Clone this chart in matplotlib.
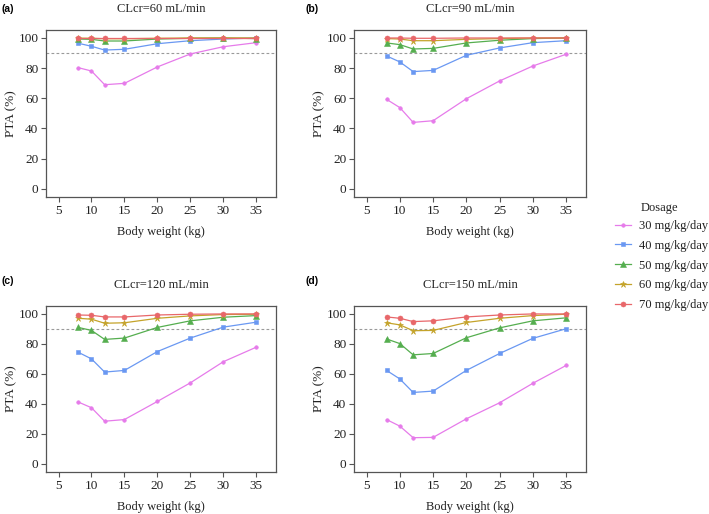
import numpy as np
import matplotlib
matplotlib.use('Agg')
import matplotlib.pyplot as plt

plt.rcParams['font.family'] = ['Liberation Serif', 'DejaVu Serif']

weight = [8, 10, 12, 15, 20, 25, 30, 35]
dosages = ['30 mg/kg/day', '40 mg/kg/day', '50 mg/kg/day', '60 mg/kg/day', '70 mg/kg/day']
panel_tags = ['(a)', '(b)', '(c)', '(d)']
panel_titles = ['CLcr=60 mL/min', 'CLcr=90 mL/min', 'CLcr=120 mL/min', 'CLcr=150 mL/min']

# PTA (%) per dosage
pta_60 = [
    [80.3, 78.1, 69.0, 69.9, 80.8, 89.4, 94.2, 96.9],
    [96.5, 94.5, 92.0, 92.5, 96.2, 98.2, 99.3, 100.0],
    [99.3, 99.1, 98.0, 98.0, 99.3, 99.8, 100.0, 99.6],
    [99.9, 99.8, 99.5, 99.5, 99.8, 100.0, 100.0, 100.0],
    [100.0, 100.0, 100.0, 100.0, 100.0, 100.0, 100.0, 100.0],
]
pta_90 = [
    [59.3, 53.8, 44.0, 45.1, 59.7, 71.5, 81.4, 89.2],
    [88.1, 84.1, 77.7, 78.5, 88.5, 93.4, 96.9, 98.2],
    [96.7, 95.6, 92.7, 93.1, 96.7, 98.5, 99.6, 100.0],
    [99.6, 99.3, 98.2, 98.2, 99.1, 99.6, 100.0, 100.0],
    [100.0, 100.0, 99.8, 99.8, 100.0, 100.0, 100.0, 100.0],
]
pta_120 = [
    [41.2, 37.4, 28.4, 29.5, 41.6, 54.0, 68.1, 77.8],
    [74.4, 70.0, 61.2, 62.3, 74.9, 83.9, 91.2, 94.5],
    [91.0, 89.0, 83.0, 83.9, 91.0, 95.4, 97.8, 98.9],
    [97.1, 96.5, 93.8, 94.1, 97.1, 98.7, 99.6, 99.8],
    [99.3, 99.1, 98.0, 98.0, 99.3, 99.8, 100.0, 100.0],
]
pta_150 = [
    [29.5, 25.1, 17.4, 17.6, 30.0, 40.7, 53.7, 65.6],
    [62.3, 56.6, 47.6, 48.5, 62.3, 73.6, 83.7, 90.1],
    [83.3, 80.2, 72.7, 73.6, 84.1, 90.7, 95.4, 97.4],
    [94.1, 92.7, 88.8, 89.0, 94.3, 97.1, 98.9, 99.8],
    [98.0, 97.1, 94.9, 95.4, 98.0, 99.3, 100.0, 100.0],
]
panels = [pta_60, pta_90, pta_120, pta_150]
target = 90

colors = ['#E67BEA', '#6A98F2', '#55AE4F', '#C4A32A', '#E8676A']
markers = ['o', 's', '^', '*', 'o']
msizes = [2.6, 3.0, 4.0, 4.5, 3.6]

W, H = 709, 514
fig = plt.figure(figsize=(W / 100, H / 100), dpi=100)

# axes boxes in pixels: left, top, right, bottom
boxes = [(46, 30, 276, 197), (354, 30, 586, 197),
         (46, 306, 276, 472), (354, 306, 586, 472)]

axes = []
for k, (l, t, r, b) in enumerate(boxes):
    ax = fig.add_axes([l / W, 1 - b / H, (r - l) / W, (b - t) / H])
    data = panels[k]
    for i in range(len(dosages)):
        ax.plot(weight, data[i], color=colors[i], marker=markers[i], ms=msizes[i],
                lw=0.9, label=dosages[i], markeredgewidth=0.4)
    ax.axhline(target, color='#9a9a9a', lw=0.8, ls=(0, (2.5, 2)), zorder=0)
    ax.set_xlim(3.1, 38.0)
    ax.set_ylim(-5.5, 105.3)
    ax.set_xticks([5, 10, 15, 20, 25, 30, 35])
    ax.set_yticks([0, 20, 40, 60, 80, 100])
    for s in ax.spines.values():
        s.set_color('#555555')
        s.set_linewidth(0.9)
    ax.tick_params(direction='out', length=3.5, width=0.8, color='#555555',
                   labelsize=9.5, labelcolor='#222222', pad=2)
    ax.set_xlabel('Body weight (kg)', fontsize=9, color='#222222', labelpad=6.5)
    ax.set_ylabel('PTA (%)', fontsize=9.5, color='#222222', labelpad=0.5)
    ax.set_title(panel_titles[k], fontsize=9, color='#222222', pad=13)
    axes.append(ax)

tag_pos = [(2, 9), (305, 9), (2, 281), (305, 281)]
for tag, (x, y) in zip(panel_tags, tag_pos):
    fig.text(x / W, 1 - y / H, tag, fontsize=7.5, fontweight='bold',
             family=['Liberation Sans', 'DejaVu Sans'], va='center', ha='left')

handles, labels = axes[0].get_legend_handles_labels()
fig.text(641 / W, 1 - 208 / H, 'Dosage', fontsize=9, color='#222222',
         ha='left', va='center')
fig.legend(handles, labels, loc='upper left', bbox_to_anchor=(615 / W, 1 - 220 / H),
           frameon=False, fontsize=9, handlelength=1.3, handletextpad=0.6,
           labelspacing=0.62, borderpad=0, borderaxespad=0, labelcolor='#222222')

fig.savefig('out.png', dpi=100)
